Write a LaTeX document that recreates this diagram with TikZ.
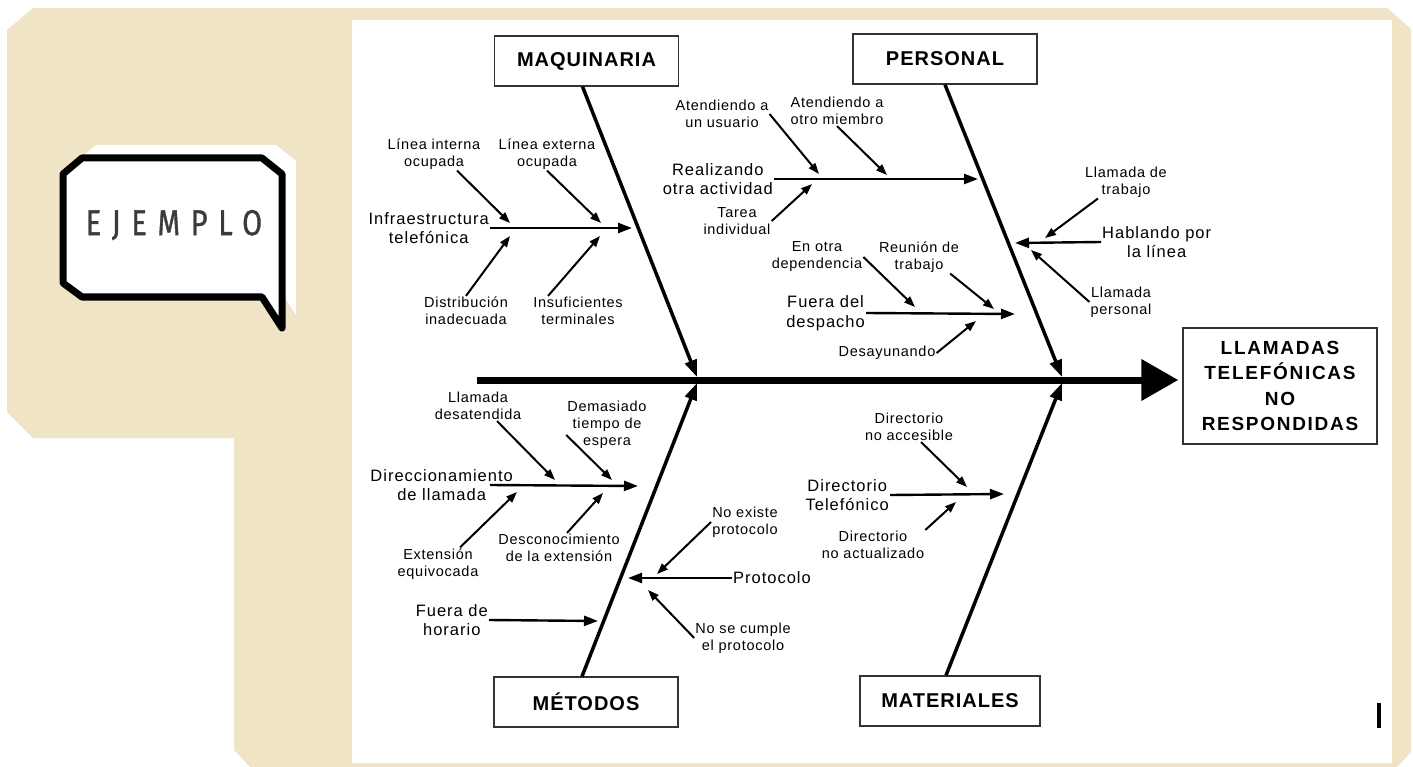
\documentclass[tikz,border=0pt]{standalone}
\usepackage{fontspec}
\setmainfont{Liberation Sans}
\newfontfamily\bubblefont[LetterSpace=30,FakeStretch=0.8,FakeBold=1]{Fira Sans}
\usetikzlibrary{arrows.meta,positioning}
\definecolor{sand}{HTML}{EFE4C5}
\tikzset{>={Triangle[length=11pt,width=8pt]},
  catbox/.style={draw=black!80,line width=1.3pt,minimum width=184pt,minimum height=50pt,
    font=\fontsize{20}{24}\selectfont\bfseries\addfontfeature{LetterSpace=5}},
  causelbl/.style={align=center,inner sep=1pt,
    font=\fontsize{16.5}{19.5}\selectfont\addfontfeature{LetterSpace=6}},
  sublbl/.style={align=center,inner sep=1pt,
    font=\fontsize{14.5}{17}\selectfont\addfontfeature{LetterSpace=5}},
  bonearrow/.style={line width=3.5pt,-{Triangle[length=17pt,width=12pt]}},
  brancharrow/.style={line width=2.4pt,-{Triangle[length=14pt,width=10pt]}},
  twigarrow/.style={line width=2pt,->}}

\begin{document}
\begin{tikzpicture}[x=1pt,y=-1pt]
  \useasboundingbox (0,0) rectangle (1413,767);
  \fill[sand] (33,8) -- (1387,8) -- (1411,29) -- (1411,752) -- (1397,767) -- (250,767)
    -- (234,750) -- (234,438) -- (33,438) -- (7,412) -- (7,30) -- cycle;
  \fill[white] (352,20) rectangle (1392,763);

  \fill[white] (77,161) -- (96,145) -- (276,145) -- (296,161) -- (296,315) -- (276,284)
    -- (96,284) -- (77,270) -- cycle;
  \draw[line width=7pt,line join=round,fill=white] (63,174) -- (82,158) -- (262,158)
    -- (282,174) -- (282,328) -- (262,297) -- (82,297) -- (63,283) -- cycle;
  \node[text=black!77,font=\bubblefont\fontsize{36}{40}\selectfont] (ejemplo) at (174,225) {EJEMPLO};

  \node[catbox] (maq) at (586.5,61) {MAQUINARIA};
  \node[catbox] (pers) at (945,59) {PERSONAL};
  \node[catbox] (met) at (586,702) {MÉTODOS};
  \node[catbox,minimum width=180pt] (mat) at (950,701) {MATERIALES};
  \node[draw=black!80,line width=1.3pt,minimum width=194pt,minimum height=116pt,align=center,
    font=\fontsize{19}{25.5}\selectfont\bfseries\addfontfeature{LetterSpace=9}]
    (efecto) at (1280,386) {LLAMADAS\\TELEFÓNICAS\\NO\\RESPONDIDAS};

  \coordinate (cola) at (477,380);
  \coordinate (j1) at (697,380);
  \coordinate (j2) at (1062,380);
  \draw[line width=7pt,-{Triangle[length=37pt,width=40pt]},shorten >=4pt] (cola) -- (cola -| efecto.west);
  \draw[bonearrow] ([xshift=-4pt]maq.south) -- ([yshift=3pt]j1);
  \draw[bonearrow] (pers.south) -- ([yshift=3pt]j2);
  \draw[bonearrow] ([xshift=-4pt]met.north) -- ([yshift=-3pt]j1);
  \draw[bonearrow] ([xshift=-4pt]mat.north) -- ([yshift=-3pt]j2);

  \node[causelbl,anchor=east] (infra) at (490,228) {Infraestructura\\telefónica};
  \node[sublbl] (li) at (434,154) {Línea interna\\ocupada};
  \node[sublbl] (le) at (547,154) {Línea externa\\ocupada};
  \node[sublbl] (di) at (466,311) {Distribución\\inadecuada};
  \node[sublbl] (ins) at (578,311) {Insuficientes\\terminales};
  \coordinate (infra-end) at (632,228);
  \coordinate (li-end) at (510,223);
  \coordinate (le-end) at (601,223);
  \coordinate (di-end) at (510,236);
  \coordinate (ins-end) at (600,236);
  \draw[brancharrow] (infra.east) -- (infra-end);
  \draw[twigarrow] ([xshift=23pt]li.south) -- (li-end);
  \draw[twigarrow] (le.south) -- (le-end);
  \draw[twigarrow] (di.north) -- (di-end);
  \draw[twigarrow] ([xshift=-30pt]ins.north) -- (ins-end);

  \node[causelbl,anchor=east] (real) at (774,179) {Realizando\\otra actividad};
  \node[sublbl] (au) at (722,114) {Atendiendo a\\un usuario};
  \node[sublbl] (am) at (837,111) {Atendiendo a\\otro miembro};
  \node[sublbl] (ti) at (737,221) {Tarea\\individual};
  \coordinate (real-end) at (978,179);
  \coordinate (au-end) at (819,174);
  \coordinate (am-end) at (887,175);
  \coordinate (ti-end) at (812,184);
  \draw[brancharrow] (real.east) -- (real-end);
  \draw[twigarrow] (au.east) -- (au-end);
  \draw[twigarrow] (am.south) -- (am-end);
  \draw[twigarrow] (ti.east) -- (ti-end);

  \node[causelbl,anchor=west] (hab) at (1101,242) {Hablando por\\la línea};
  \node[sublbl] (lt) at (1126,182) {Llamada de\\trabajo};
  \node[sublbl] (lp) at (1121,302) {Llamada\\personal};
  \coordinate (hab-end) at (1015,243);
  \coordinate (lt-end) at (1045,238);
  \coordinate (lp-end) at (1031,250);
  \draw[brancharrow] (hab.west) -- (hab-end);
  \draw[twigarrow] ([xshift=-28pt]lt.south) -- (lt-end);
  \draw[twigarrow] (lp.west) -- (lp-end);

  \node[causelbl,anchor=east] (fue) at (866,313) {Fuera del\\despacho};
  \node[sublbl] (eo) at (817,257) {En otra\\dependencia};
  \node[sublbl] (reu) at (919,257) {Reunión de\\trabajo};
  \node[sublbl] (des) at (887,353) {Desayunando};
  \coordinate (fue-end) at (1015,314);
  \coordinate (eo-end) at (915,307);
  \coordinate (reu-end) at (994,309);
  \coordinate (des-end) at (976,321);
  \draw[brancharrow] (fue.east) -- (fue-end);
  \draw[twigarrow] (eo.east) -- (eo-end);
  \draw[twigarrow] ([xshift=-10pt]reu.south east) -- (reu-end);
  \draw[twigarrow] (des.east) -- (des-end);

  \node[causelbl,anchor=east] (dir) at (514,485) {Direccionamiento\\de llamada};
  \node[sublbl] (ld) at (478,406) {Llamada\\desatendida};
  \node[sublbl] (dem) at (607,425) {Demasiado\\tiempo de\\espera};
  \node[sublbl] (ext) at (438,564) {Extensión\\equivocada};
  \node[sublbl] (desc) at (559,548) {Desconocimiento\\de la extensión};
  \coordinate (dir-end) at (638,486);
  \coordinate (ld-end) at (555,480);
  \coordinate (dem-end) at (612,480);
  \coordinate (ext-end) at (517,492);
  \coordinate (desc-end) at (603,493);
  \draw[brancharrow] ([xshift=-24pt]dir.east) -- (dir-end);
  \draw[twigarrow] ([xshift=19pt]ld.south) -- (ld-end);
  \draw[twigarrow] ([yshift=-10pt]dem.west) -- (dem-end);
  \draw[twigarrow] ([xshift=22pt]ext.north) -- (ext-end);
  \draw[twigarrow] ([xshift=8pt]desc.north) -- (desc-end);

  \node[causelbl,anchor=east] (fh) at (489,620) {Fuera de\\horario};
  \coordinate (fh-end) at (598,621);
  \draw[brancharrow] (fh.east) -- (fh-end);

  \node[causelbl,anchor=west] (prot) at (732,578) {Protocolo};
  \node[sublbl] (nep) at (745,522) {No existe\\protocolo};
  \node[sublbl] (nsc) at (743,638) {No se cumple\\el protocolo};
  \coordinate (prot-end) at (628,578);
  \coordinate (nep-end) at (657,574);
  \coordinate (nsc-end) at (648,590);
  \draw[brancharrow] (prot.west) -- (prot-end);
  \draw[twigarrow] (nep.west) -- (nep-end);
  \draw[twigarrow] (nsc.west) -- (nsc-end);

  \node[causelbl,anchor=east] (dt) at (890,495) {Directorio\\Telefónico};
  \node[sublbl] (dna) at (909,427) {Directorio\\no accesible};
  \node[sublbl] (dnu) at (873,545) {Directorio\\no actualizado};
  \coordinate (dt-end) at (1004,494);
  \coordinate (dna-end) at (967,487);
  \coordinate (dnu-end) at (956,502);
  \draw[brancharrow] (dt.east) -- (dt-end);
  \draw[twigarrow] ([xshift=12pt]dna.south) -- (dna-end);
  \draw[twigarrow] (dnu.north east) -- (dnu-end);

  \draw[line width=3.5pt] (1379,703) -- (1379,728);
\end{tikzpicture}
\end{document}
